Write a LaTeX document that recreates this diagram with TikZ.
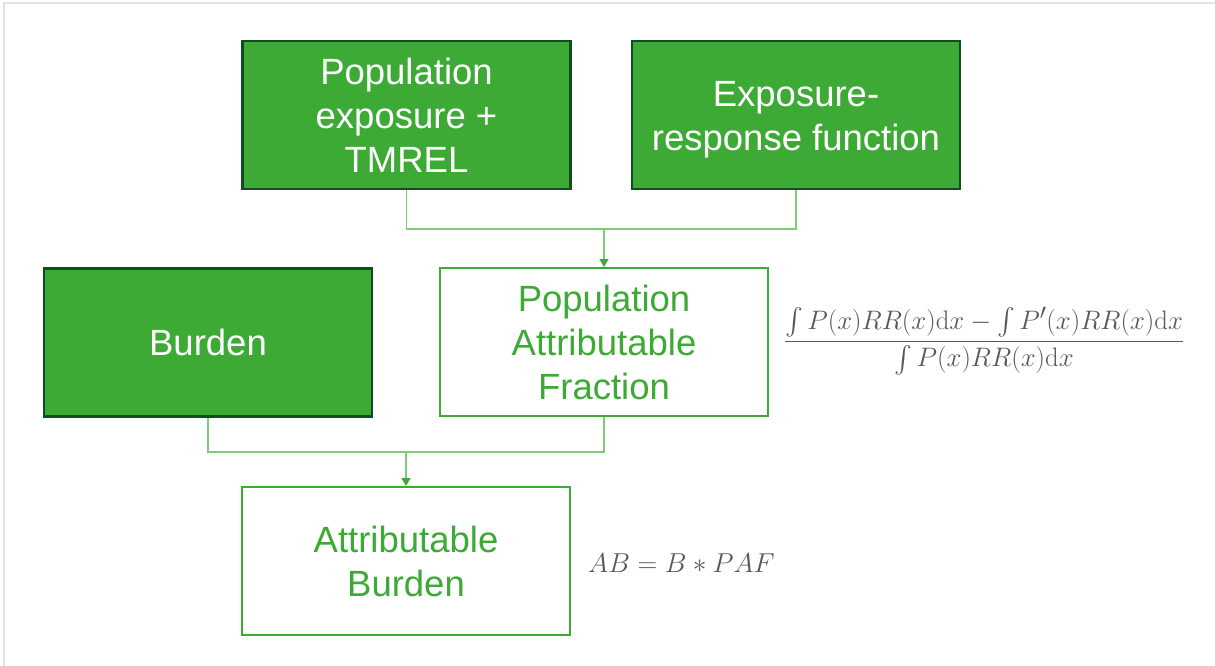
\documentclass[tikz,border=0pt]{standalone}
\usepackage{exscale}
\usepackage[no-math]{fontspec}
\setmainfont{Liberation Sans}
\usetikzlibrary{arrows.meta}
\definecolor{gfill}{HTML}{3DAA35}
\definecolor{gdark}{HTML}{0D4F1E}
\definecolor{gline}{HTML}{7FCB79}
\definecolor{fgray}{HTML}{595959}
\definecolor{frame}{HTML}{E2E2E2}
\tikzset{
  darkbox/.style={draw=gdark, line width=2.2pt, fill=gfill, text=white, minimum width=328pt, minimum height=148pt, inner sep=0pt, align=center, font=\fontsize{36.5}{44}\selectfont},
  lightbox/.style={draw=gfill, line width=2pt, fill=white, text=gfill, minimum width=328pt, minimum height=148pt, inner sep=0pt, align=center, font=\fontsize{36.5}{44}\selectfont},
  conn/.style={draw=gline, line width=1.3pt},
  arr/.style={conn, -{Triangle[length=8pt,width=9pt,fill=gfill,color=gfill]}},
  formula/.style={text=fgray, inner sep=0pt, font=\fontsize{24.88}{30}\selectfont}
}
\begin{document}
\begin{tikzpicture}[x=1pt,y=-1pt]
\useasboundingbox (0,0) rectangle (1215,666);
\fill[white] (0,0) rectangle (1215,666);
\draw[frame, line width=2pt] (4,666) -- (4,3) -- (1215,3);

\node[darkbox] (pe) at (406.5,115) {Population\\exposure +\\TMREL};
\node[darkbox] (erf) at (796,115) {};
\node[text=white, align=center, inner sep=0pt, font=\fontsize{36.5}{44}\selectfont] (erftxt) at (796,120) {Exposure-\\response function};
\node[darkbox] (bur) at (208,342.5) {Burden};
\node[lightbox] (paf) at (604,342) {Population\\Attributable\\Fraction};
\node[lightbox] (ab) at (406,561) {Attributable\\Burden};

\coordinate (m1) at (604,229);
\coordinate (m2) at (406,452);

\draw[conn] (pe.south) |- (m1) -| (erf.south);
\draw[arr] (m1) -- (paf.north);
\draw[conn] (bur.south) |- (m2) -| (paf.south);
\draw[arr] (m2) -- (ab.north);

\node[formula, scale=1.075] (f1) at (984,341)
  {$\displaystyle\frac{\int P(x)RR(x)\mathrm{d}x-\int P'(x)RR(x)\mathrm{d}x}{\int P(x)RR(x)\mathrm{d}x}$};
\node[formula, anchor=west, scale=1.1] (f2) at (588,563) {$AB=B*PAF$};
\end{tikzpicture}
\end{document}
